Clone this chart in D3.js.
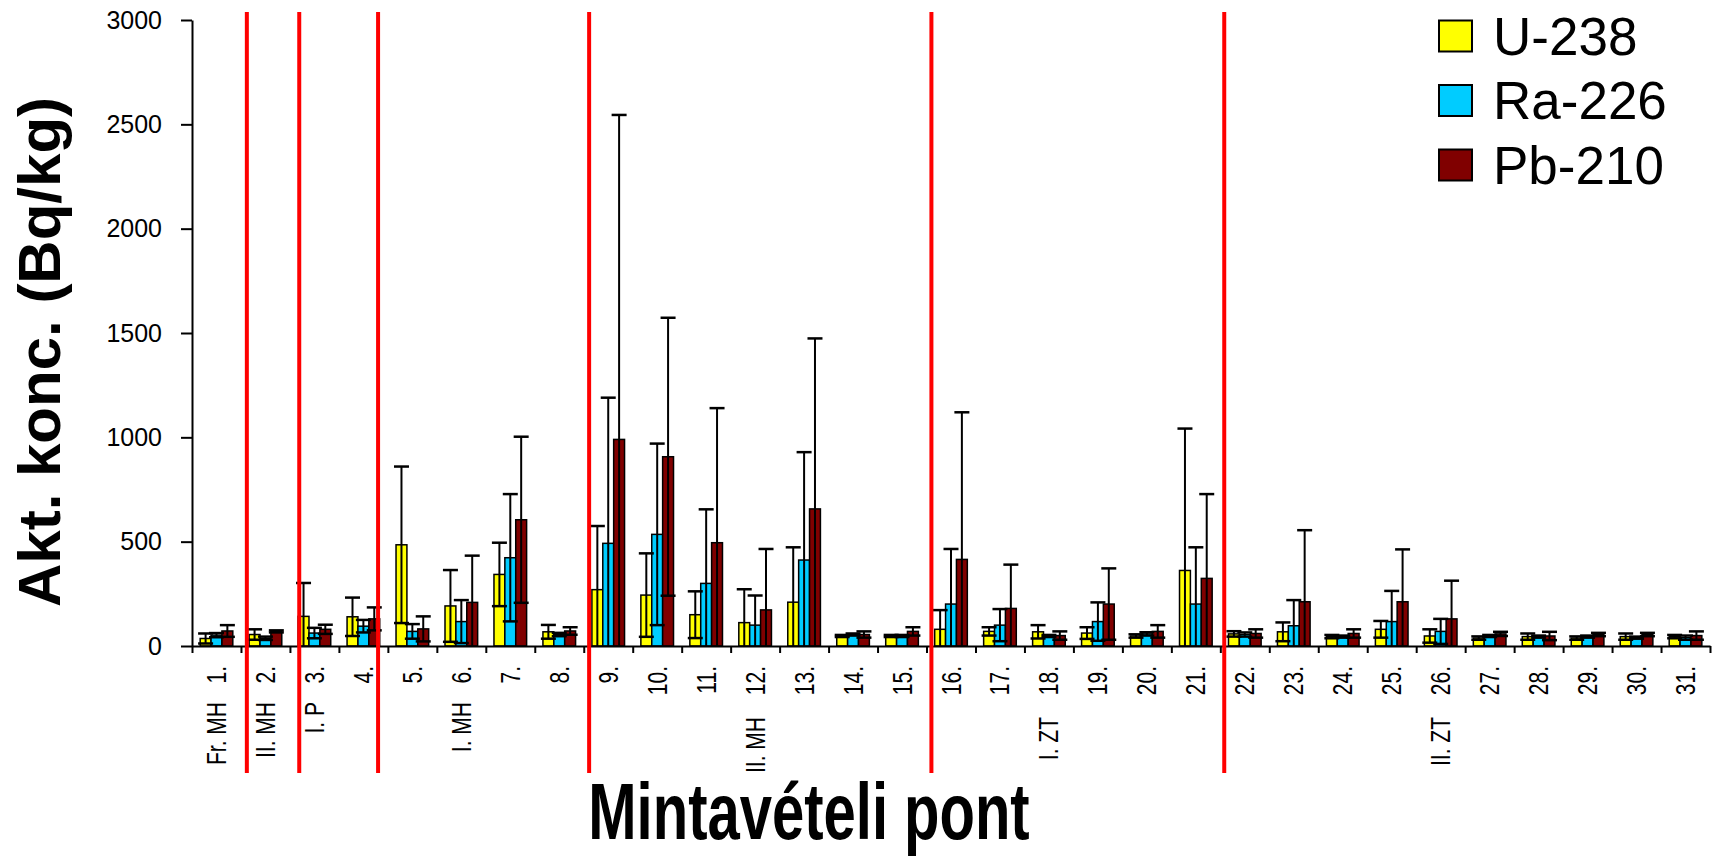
<!DOCTYPE html>
<html>
<head>
<meta charset="utf-8">
<script src="https://cdn.jsdelivr.net/npm/d3@7"></script>
<style>
  html, body { margin: 0; padding: 0; background: #fff; }
  svg { display: block; }
  text { font-family: "Liberation Sans", Arial, sans-serif; fill: #000; }
</style>
</head>
<body>
<svg id="chart" width="1720" height="858"></svg>
<script>
// Sampling points 1–31
const categories = d3.range(1, 32).map(d => d + ".");

// Mean activity concentrations (Bq/kg) and their standard deviations
const u238    = [36, 55, 142, 140, 485, 192, 343, 68, 270, 244, 150, 112, 210, 48, 48, 80, 70, 68, 62, 48, 362, 58, 68, 45, 80, 48, 38, 45, 38, 45, 45];
const u238Err = [24, 25, 160, 92, 375, 172, 152, 33, 305, 200, 112, 160, 263, 5, 5, 92, 20, 32, 28, 8, 680, 13, 45, 8, 40, 32, 8, 15, 8, 15, 8];
const ra226    = [52, 37, 62, 95, 70, 117, 423, 55, 492, 535, 300, 100, 412, 55, 48, 201, 100, 48, 117, 58, 201, 55, 97, 45, 117, 70, 48, 45, 45, 40, 40];
const ra226Err = [10, 8, 25, 30, 35, 103, 305, 8, 698, 435, 355, 142, 517, 5, 5, 264, 77, 5, 92, 8, 272, 10, 123, 5, 147, 60, 5, 5, 5, 5, 10];
const pb210    = [72, 70, 80, 130, 82, 209, 605, 72, 990, 907, 495, 173, 657, 55, 70, 415, 180, 50, 201, 70, 324, 60, 212, 60, 212, 130, 58, 48, 55, 55, 50];
const pb210Err = [28, 5, 22, 55, 60, 224, 398, 18, 1555, 666, 645, 292, 817, 15, 20, 705, 210, 20, 171, 30, 404, 20, 343, 20, 251, 183, 10, 20, 8, 8, 20];

const seriesNames = ["U-238", "Ra-226", "Pb-210"];
const seriesColors = ["#FFFF00", "#00CCFF", "#800000"];

// Site groups and the sampling point each group name sits under
const groupNames = ["Fr. MH", "II. MH", "I. P", "I. MH", "II. MH", "I. ZT", "II. ZT"];
const groupAt    = [1, 2, 3, 6, 12, 18, 26];

// Group separators, in category units from the y axis
const separatorsAt = [1.12, 2.19, 3.80, 8.11, 15.10, 21.08];

const yTicks = [0, 500, 1000, 1500, 2000, 2500, 3000];

const series = [
  { name: seriesNames[0], color: seriesColors[0], values: u238,  errors: u238Err },
  { name: seriesNames[1], color: seriesColors[1], values: ra226, errors: ra226Err },
  { name: seriesNames[2], color: seriesColors[2], values: pb210, errors: pb210Err }
];

const svg = d3.select("#chart");
const plotLeft = 192, plotRight = 1710, plotTop = 20, plotBottom = 646;

const x = d3.scaleBand().domain(categories).range([plotLeft, plotRight]).padding(0);
const xs = d3.scaleBand().domain(seriesNames).range([0, x.bandwidth()]).paddingInner(0).paddingOuter(0.75);
const xl = d3.scaleLinear().domain([0, categories.length]).range([plotLeft, plotRight]);
const y = d3.scaleLinear().domain([0, 3000]).range([plotBottom, plotTop]);

// Bars
const bars = svg.append("g");
series.forEach(s => {
  bars.selectAll(null)
    .data(s.values)
    .join("rect")
    .attr("x", (d, i) => x(categories[i]) + xs(s.name))
    .attr("y", d => y(d))
    .attr("width", xs.bandwidth())
    .attr("height", d => y(0) - y(d))
    .attr("fill", s.color)
    .attr("stroke", "#000")
    .attr("stroke-width", 1.5);
});

// Error bars (both directions, lower end cut at the axis)
const capW = 15;
const errs = svg.append("g").attr("stroke", "#000");
series.forEach(s => {
  const cx = i => x(categories[i]) + xs(s.name) + xs.bandwidth() / 2;
  s.values.forEach((v, i) => {
    const hi = v + s.errors[i];
    const lo = Math.max(0, v - s.errors[i]);
    errs.append("line")
      .attr("x1", cx(i)).attr("x2", cx(i))
      .attr("y1", y(hi)).attr("y2", y(lo))
      .attr("stroke-width", 2);
    errs.append("line")
      .attr("x1", cx(i) - capW / 2).attr("x2", cx(i) + capW / 2)
      .attr("y1", y(hi)).attr("y2", y(hi))
      .attr("stroke-width", 2.5);
    if (lo > 0) {
      errs.append("line")
        .attr("x1", cx(i) - capW / 2).attr("x2", cx(i) + capW / 2)
        .attr("y1", y(lo)).attr("y2", y(lo))
        .attr("stroke-width", 2.5);
    }
  });
});

// Y axis
const yAxis = svg.append("g")
  .attr("transform", `translate(${plotLeft},0)`)
  .call(d3.axisLeft(y).tickValues(yTicks).tickFormat(d3.format("d"))
    .tickSize(11).tickSizeOuter(0).tickPadding(19));
yAxis.select(".domain").attr("stroke", "#000").attr("stroke-width", 2);
yAxis.selectAll(".tick line").attr("stroke", "#000").attr("stroke-width", 2);
yAxis.selectAll(".tick text").attr("font-size", 25).attr("fill", "#141428");

// X axis with ticks at category boundaries
const xAxis = svg.append("g")
  .attr("transform", `translate(0,${plotBottom})`)
  .call(d3.axisBottom(xl).tickValues(d3.range(0, categories.length + 1)).tickFormat("").tickSize(7).tickSizeOuter(0));
xAxis.select(".domain").attr("stroke", "#000").attr("stroke-width", 2);
xAxis.selectAll(".tick line").attr("stroke", "#000").attr("stroke-width", 2);

// Category labels (rotated)
svg.append("g").selectAll("text")
  .data(categories)
  .join("text")
  .attr("transform", d => `translate(${x(d) + x.bandwidth() / 2},666) rotate(-90) scale(1,1.3)`)
  .attr("text-anchor", "end")
  .attr("dominant-baseline", "central")
  .attr("font-size", 21)
  .text(d => d);

// Group labels
svg.append("g").selectAll("text")
  .data(groupNames)
  .join("text")
  .attr("transform", (d, i) => {
    const c = categories[groupAt[i] - 1];
    const end = groupAt[i] < 9 ? 702 : 717;
    return `translate(${x(c) + x.bandwidth() / 2},${end}) rotate(-90) scale(1,1.3)`;
  })
  .attr("text-anchor", "end")
  .attr("dominant-baseline", "central")
  .attr("font-size", 21)
  .text(d => d);

// Red group separators
svg.append("g").selectAll("line")
  .data(separatorsAt)
  .join("line")
  .attr("x1", d => xl(d)).attr("x2", d => xl(d))
  .attr("y1", 12).attr("y2", 773)
  .attr("stroke", "#FF0000")
  .attr("stroke-width", 4);

// Axis titles
svg.append("text")
  .attr("transform", "translate(60,352) rotate(-90)")
  .attr("text-anchor", "middle")
  .attr("font-size", 60)
  .attr("font-weight", "bold")
  .text("Akt. konc. (Bq/kg)");

svg.append("text")
  .attr("transform", "translate(809,839) scale(1,1.37)")
  .attr("text-anchor", "middle")
  .attr("font-size", 58)
  .attr("font-weight", "bold")
  .text("Mintavételi pont");

// Legend
const legend = svg.append("g");
const rowsY = [36, 100.5, 165];
series.forEach((s, i) => {
  legend.append("rect")
    .attr("x", 1439).attr("y", rowsY[i] - 15.5)
    .attr("width", 33).attr("height", 31)
    .attr("fill", s.color)
    .attr("stroke", "#000").attr("stroke-width", 2);
  legend.append("text")
    .attr("x", 1493).attr("y", rowsY[i])
    .attr("dominant-baseline", "central")
    .attr("font-size", 53)
    .text(s.name);
});
</script>
</body>
</html>
